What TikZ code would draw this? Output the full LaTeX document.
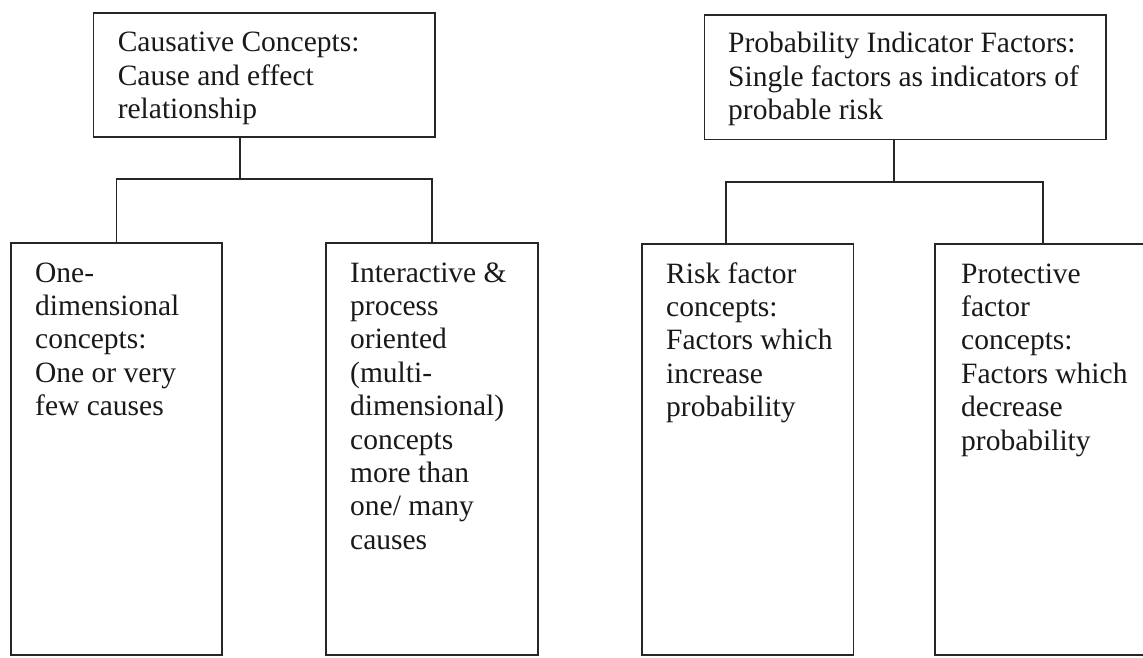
\documentclass[tikz,border=0pt]{standalone}
\usepackage{fontspec}
\setmainfont{Liberation Serif}
\newcommand{\boxtext}[1]{\parbox[t]{16cm}{\raggedright\fontsize{29.5}{33.4}\selectfont #1}}
\begin{document}
\begin{tikzpicture}[x=1pt,y=-1pt,
  box/.style={draw=black!85, line width=1.2pt, rectangle, inner sep=0pt},
  conn/.style={draw=black!85, line width=1.2pt},
  label/.style={anchor=base west, inner sep=0pt, text=black!90}]
\useasboundingbox (0,0) rectangle (1143,658);
\clip (0,0) rectangle (1143,658);
\fill[white] (0,0) rectangle (1143,658);

% top boxes
\node[box, minimum width=341.5pt, minimum height=124pt] (A) at (264.25,75) {};
\node[box, minimum width=401.5pt, minimum height=124.5pt] (B) at (905.25,77.25) {};

% child boxes
\node[box, minimum width=211pt, minimum height=412pt] (C1) at (116.5,449) {};
\node[box, minimum width=212pt, minimum height=412pt] (C2) at (432,449) {};
\node[box, minimum width=211.5pt, minimum height=411pt] (C3) at (747.75,449.5) {};
\node[box, minimum width=216pt, minimum height=411pt] (C4) at (1043,449.5) {};

% connectors
\coordinate (jL) at (240,179);
\coordinate (jR) at (894,182);
\coordinate (d3) at (726,244);
\draw[conn] (A.south -| jL) -- (jL);
\draw[conn] (C1.north) |- (jL) -| (C2.north);
\draw[conn] (B.south -| jR) -- (jR);
\draw[conn] (d3) |- (jR) -| (C4.north);

% texts
\node[label] (tA) at (117.6,52) {\boxtext{Causative Concepts:\\Cause and effect\\relationship}};
\node[label] (tB) at (728,53) {\boxtext{Probability Indicator Factors:\\Single factors as indicators of\\probable risk}};
\node[label] (tC1) at (35,282) {\boxtext{One-\\dimensional\\concepts:\\One or very\\few causes}};
\node[label] (tC2) at (350,282) {\boxtext{Interactive \&\\process\\oriented\\(multi-\\dimensional)\\concepts\\more than\\one/ many\\causes}};
\node[label] (tC3) at (666,283) {\boxtext{Risk factor\\concepts:\\Factors which\\increase\\probability}};
\node[label] (tC4) at (961,283) {\boxtext{Protective\\factor\\concepts:\\Factors which\\decrease\\probability}};
\end{tikzpicture}
\end{document}
